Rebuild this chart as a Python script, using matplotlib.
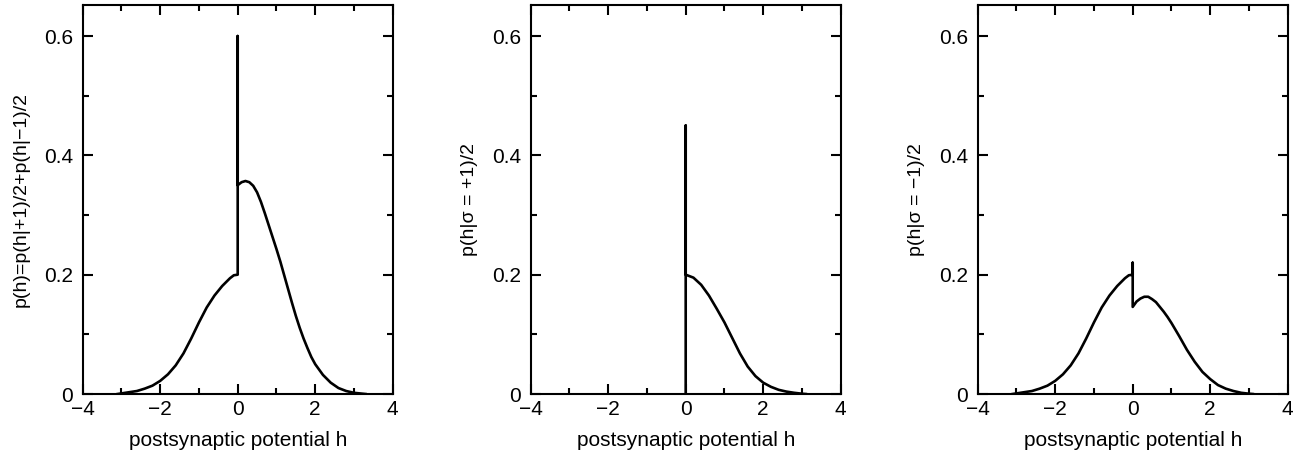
import matplotlib
matplotlib.use('Agg')
import matplotlib.pyplot as plt
from matplotlib.ticker import MultipleLocator, FixedFormatter, FixedLocator

plt.rcParams['font.family'] = ['Liberation Sans', 'DejaVu Sans']

# left half (h<0), shared by panel 1 and panel 3
h_neg = [-3.1, -3.0, -2.8, -2.6, -2.4, -2.2, -2.0, -1.8, -1.6, -1.4, -1.2, -1.0,
         -0.8, -0.6, -0.4, -0.2, -0.1, 0.0]
p_neg = [0.0, 0.001, 0.003, 0.005, 0.009, 0.014, 0.022, 0.033, 0.048, 0.068, 0.093, 0.120,
         0.145, 0.165, 0.181, 0.194, 0.199, 0.200]

# panel 1: p(h) = p(h|+1)/2 + p(h|-1)/2   (spike at h=0: 0.2 -> 0.6 -> 0.35)
h1_pos = [0.0, 0.0, 0.1, 0.2, 0.3, 0.4, 0.5, 0.6, 0.7, 0.8, 0.9, 1.0, 1.1, 1.2, 1.3, 1.4,
          1.5, 1.6, 1.7, 1.8, 1.9, 2.0, 2.2, 2.4, 2.6, 2.8, 3.0, 3.3]
p1_pos = [0.600, 0.350, 0.355, 0.357, 0.355, 0.349, 0.338, 0.322, 0.303, 0.283, 0.263, 0.243,
          0.222, 0.199, 0.176, 0.153, 0.131, 0.111, 0.093, 0.077, 0.062, 0.050, 0.032, 0.019,
          0.010, 0.005, 0.002, 0.0]

# panel 2: p(h|sigma=+1)/2   (spike at h=0: 0 -> 0.45 -> 0.2)
h2 = [0.0, 0.0, 0.0, 0.2, 0.4, 0.6, 0.8, 1.0, 1.2, 1.4, 1.6, 1.8, 2.0, 2.2, 2.4, 2.6, 2.8, 3.0, 3.1]
p2 = [0.0, 0.450, 0.200, 0.195, 0.183, 0.165, 0.143, 0.120, 0.094, 0.068, 0.046, 0.030, 0.019,
      0.012, 0.007, 0.004, 0.002, 0.0005, 0.0]

# panel 3: p(h|sigma=-1)/2   (spike at h=0: 0.2 -> 0.22 -> 0.146)
h3_pos = [0.0, 0.0, 0.1, 0.2, 0.3, 0.4, 0.5, 0.6, 0.7, 0.8, 0.9, 1.0, 1.2, 1.4, 1.6, 1.8,
          2.0, 2.2, 2.4, 2.6, 2.8, 3.0, 3.1]
p3_pos = [0.220, 0.146, 0.155, 0.160, 0.163, 0.163, 0.159, 0.154, 0.146, 0.138, 0.129, 0.119,
          0.097, 0.074, 0.054, 0.037, 0.025, 0.015, 0.009, 0.005, 0.002, 0.0005, 0.0]

h1 = h_neg + h1_pos
p1 = p_neg + p1_pos
h3 = h_neg + h3_pos
p3 = p_neg + p3_pos

ylabels = ['p(h)=p(h|+1)/2+p(h|\u22121)/2', 'p(h|\u03c3 = +1)/2', 'p(h|\u03c3 = \u22121)/2']
xlabel = 'postsynaptic potential h'
xticks = [-4, -2, 0, 2, 4]
xticklabels = ['\u22124', '\u22122', '0', '2', '4']
yticks = [0, 0.2, 0.4, 0.6]
yticklabels = ['0', '0.2', '0.4', '0.6']

fig = plt.figure(figsize=(13.01, 4.55), dpi=100)
lefts = [82.7, 530.7, 977.7]
W, H = 1301.0, 455.0
axw = 310.0
bottom = 61.0
axh = 389.0

for i, (h, p) in enumerate([(h1, p1), (h2, p2), (h3, p3)]):
    ax = fig.add_axes([lefts[i] / W, bottom / H, axw / W, axh / H])
    ax.plot(h, p, color='black', lw=1.9, solid_joinstyle='round')
    ax.set_xlim(-4, 4)
    ax.set_ylim(0, 0.652)
    ax.xaxis.set_major_locator(FixedLocator(xticks))
    ax.xaxis.set_major_formatter(FixedFormatter(xticklabels))
    ax.xaxis.set_minor_locator(MultipleLocator(1))
    ax.yaxis.set_major_locator(FixedLocator(yticks))
    ax.yaxis.set_major_formatter(FixedFormatter(yticklabels))
    ax.yaxis.set_minor_locator(MultipleLocator(0.1))
    ax.tick_params(which='both', direction='in', top=True, right=True, width=1.5,
                   labelsize=15, colors='black')
    ax.tick_params(which='major', length=7)
    ax.tick_params(which='minor', length=4.5)
    ax.tick_params(axis='y', pad=7)
    ax.tick_params(axis='x', pad=4)
    for s in ax.spines.values():
        s.set_linewidth(1.5)
    ax.set_xlabel(xlabel, fontsize=15)
    ax.set_ylabel(ylabels[i], fontsize=14)
    ax.xaxis.set_label_coords(0.5, -0.095)
    ax.yaxis.set_label_coords(-0.17, 0.5)

fig.savefig('out.png', dpi=100)
